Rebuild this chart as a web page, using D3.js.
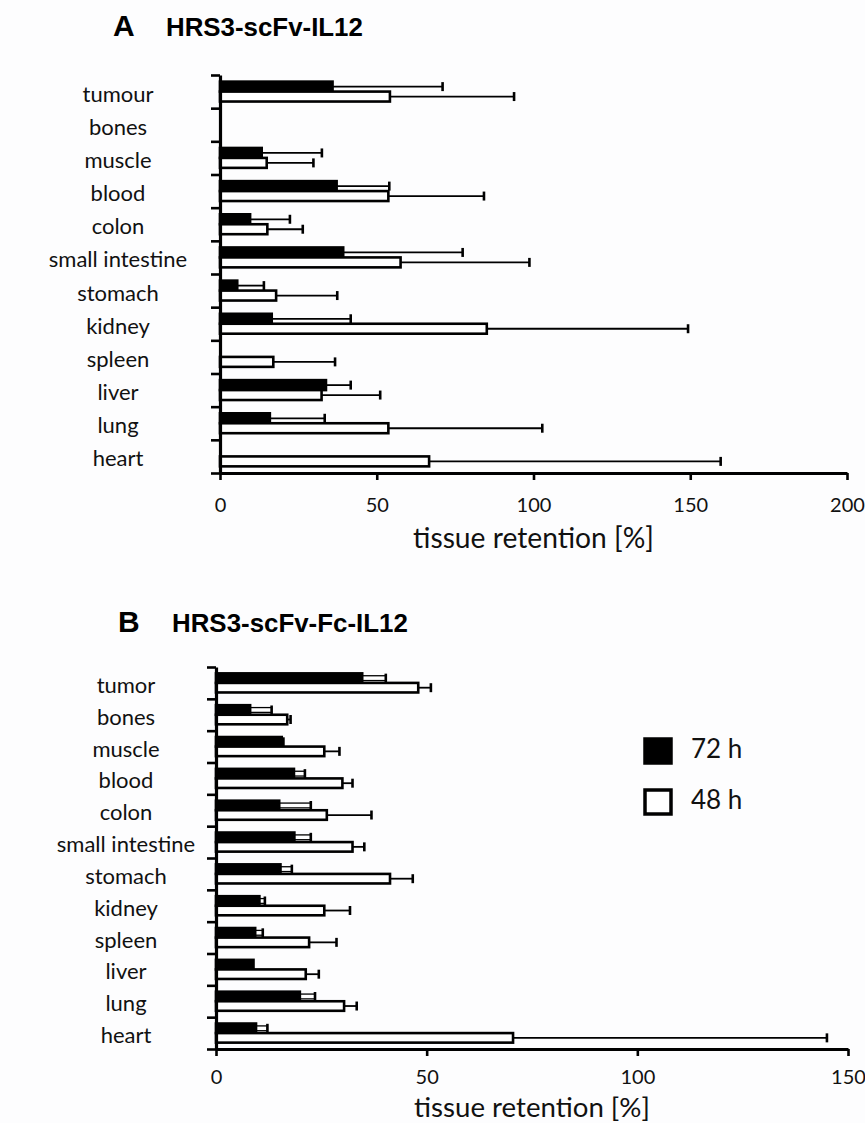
<!DOCTYPE html>
<html><head><meta charset="utf-8">
<script src="https://cdn.jsdelivr.net/npm/d3@7"></script>
<style>body{margin:0;background:#fdfdfe}</style>
</head><body>
<svg id="c" width="865" height="1123"></svg>
<script>
// ---------- data ----------
const categoriesA = ["tumour","bones","muscle","blood","colon","small intestine","stomach","kidney","spleen","liver","lung","heart"];
const categoriesB = ["tumor","bones","muscle","blood","colon","small intestine","stomach","kidney","spleen","liver","lung","heart"];
const seriesNames = ["72 h","48 h"];
// panel A (HRS3-scFv-IL12): mean and SD, null = no bar
const meanA72 = [35.9, null, 13.3, 37.2, 9.6, 39.3, 5.5, 16.5, null, 33.8, 15.9, null];
const sdA72   = [35.1, null, 19.2, 16.8, 12.7, 38.1, 8.5, 25.2, null, 7.9, 17.5, null];
const meanA48 = [54.2, null, 14.9, 53.7, 15.1, 57.6, 17.9, 85.1, 17.0, 32.4, 53.7, 66.7];
const sdA48   = [39.6, null, 14.9, 30.5, 11.3, 41.1, 19.5, 64.2, 19.7, 18.7, 49.1, 93.0];
// panel B (HRS3-scFv-Fc-IL12)
const meanB72 = [34.7, 8.1, 15.6, 18.5, 15.0, 18.6, 15.3, 10.3, 9.3, 8.9, 19.9, 9.5];
const sdB72   = [5.6, 5.1, 0.4, 2.6, 7.5, 3.9, 2.7, 1.3, 1.8, 0.0, 3.6, 2.7];
const meanB48 = [48.0, 16.9, 25.7, 30.0, 26.3, 32.4, 41.3, 25.7, 22.1, 21.3, 30.4, 70.5];
const sdB48   = [3.0, 0.8, 3.6, 2.4, 10.6, 2.8, 5.4, 6.1, 6.5, 3.1, 3.0, 74.5];
const ticksA = [0, 50, 100, 150, 200];
const ticksB = [0, 50, 100, 150];
const panelLetters = ["A", "B"];
const panelTitles = ["HRS3-scFv-IL12", "HRS3-scFv-Fc-IL12"];
const axisTitle = "tissue retention [%]";

// ---------- drawing ----------
const svg = d3.select("#c");
svg.append("rect").attr("width", 865).attr("height", 1123).attr("fill", "#fdfdfe");

const labelFont = "Lato, 'Open Sans', sans-serif";
const titleFont = "'Liberation Sans', Arial, sans-serif";

function fit(sel, w) {
  const l = sel.node().getComputedTextLength();
  const fs = parseFloat(sel.attr("font-size"));
  sel.attr("font-size", (fs * w / l).toFixed(2));
}

function panel(cfg) {
  const g = svg.append("g");
  const x = d3.scaleLinear().domain([0, cfg.max]).range([cfg.x0, cfg.x1]);
  const yb = d3.scaleLinear().domain([0, cfg.cats.length]).range([cfg.yTop, cfg.yBot]);
  const yc = d3.scaleBand().domain(cfg.cats).range([cfg.yTop, cfg.yBot]).padding(0);
  const bw = yc.bandwidth();

  // titles
  g.append("text").text(cfg.letter).attr("x", cfg.letterX).attr("y", cfg.titleY)
    .attr("font-family", titleFont).attr("font-weight", "bold").attr("font-size", 30);
  const t = g.append("text").text(cfg.title).attr("x", cfg.titleX).attr("y", cfg.titleY)
    .attr("font-family", titleFont).attr("font-weight", "bold").attr("font-size", 25);
  fit(t, cfg.titleW);

  // category labels
  g.selectAll("text.cat").data(cfg.cats).join("text").attr("class", "cat")
    .text(d => d)
    .attr("x", cfg.labelX).attr("y", d => yc(d) + bw * 0.5 + 10)
    .attr("text-anchor", "middle")
    .attr("font-family", labelFont).attr("font-size", 22).attr("fill", "#111");

  const series = [
    {mean: cfg.m72, sd: cfg.s72, off: 0.2, fill: "#000", dbl: cfg.doubleErr},
    {mean: cfg.m48, sd: cfg.s48, off: 0.5, fill: "#fff", dbl: false}
  ];
  series.forEach(s => {
    const data = cfg.cats.map((c, i) => ({c, m: s.mean[i], sd: s.sd[i]})).filter(d => d.m != null);
    const cy = d => yc(d.c) + bw * (s.off + 0.15);
    // error bars
    const eb = data.filter(d => d.sd != null && d.sd > 0);
    if (s.dbl) {
      g.selectAll(null).data(eb).join("rect")
        .attr("x", d => x(d.m)).attr("width", d => x(d.m + d.sd) - x(d.m))
        .attr("y", d => cy(d) - 2.4).attr("height", 4.8)
        .attr("fill", "#fff").attr("stroke", "#000").attr("stroke-width", 1.3);
    } else {
      g.selectAll(null).data(eb).join("line")
        .attr("x1", d => x(d.m)).attr("x2", d => x(d.m + d.sd))
        .attr("y1", cy).attr("y2", cy)
        .attr("stroke", "#000").attr("stroke-width", 1.8);
    }
    g.selectAll(null).data(eb).join("line")
      .attr("x1", d => x(d.m + d.sd)).attr("x2", d => x(d.m + d.sd))
      .attr("y1", d => cy(d) - 4.5).attr("y2", d => cy(d) + 4.5)
      .attr("stroke", "#000").attr("stroke-width", 2.6);
    // bars
    g.selectAll(null).data(data).join("rect")
      .attr("x", x(0)).attr("width", d => x(d.m) - x(0))
      .attr("y", d => yc(d.c) + bw * s.off).attr("height", bw * 0.3)
      .attr("fill", s.fill).attr("stroke", "#000").attr("stroke-width", 2.6);
  });

  // y axis (ticks between categories)
  const ya = g.append("g").attr("transform", `translate(${cfg.x0},0)`)
    .call(d3.axisLeft(yb).tickValues(d3.range(0, cfg.cats.length + 1)).tickSize(9).tickSizeOuter(0).tickFormat(""));
  ya.select(".domain").attr("stroke-width", 3.2);
  ya.selectAll(".tick line").attr("stroke-width", 2.6);

  // x axis
  const xa = g.append("g").attr("transform", `translate(0,${cfg.yBot})`)
    .call(d3.axisBottom(x).tickValues(cfg.ticks).tickSize(7).tickSizeOuter(0));
  xa.select(".domain").attr("stroke-width", 3.2);
  xa.selectAll(".tick line").attr("stroke-width", 2.6);
  xa.selectAll(".tick text").attr("y", cfg.tickLabelY).attr("dy", 0)
    .attr("font-family", labelFont).attr("font-size", 20).attr("fill", "#111");

  const at = g.append("text").text(axisTitle)
    .attr("x", (cfg.x0 + cfg.x1) / 2).attr("y", cfg.axisTitleY).attr("text-anchor", "middle")
    .attr("font-family", labelFont).attr("font-size", 28).attr("fill", "#111");
  fit(at, cfg.axisTitleW);
}

panel({cats: categoriesA, m72: meanA72, s72: sdA72, m48: meanA48, s48: sdA48, max: 200, ticks: ticksA,
  x0: 220, x1: 847, yTop: 75, yBot: 473, labelX: 118, letter: panelLetters[0], title: panelTitles[0],
  letterX: 113, titleX: 166, titleY: 36, titleW: 197, tickLabelY: 39, axisTitleY: 548, axisTitleW: 241, doubleErr: false});
panel({cats: categoriesB, m72: meanB72, s72: sdB72, m48: meanB48, s48: sdB48, max: 150, ticks: ticksB,
  x0: 216, x1: 848, yTop: 667, yBot: 1049, labelX: 126, letter: panelLetters[1], title: panelTitles[1],
  letterX: 118, titleX: 172, titleY: 632, titleW: 236, tickLabelY: 35, axisTitleY: 1117, axisTitleW: 236, doubleErr: true});

// legend
const lg = svg.append("g");
const legendFills = ["#000", "#fff"];
const legendY = [739, 790];
seriesNames.forEach((n, i) => {
  lg.append("rect").attr("x", 645).attr("y", legendY[i]).attr("width", 26).attr("height", 24)
    .attr("fill", legendFills[i]).attr("stroke", "#000").attr("stroke-width", 3.5);
  lg.append("text").text(n).attr("x", 691).attr("y", legendY[i] + 19)
    .attr("font-family", labelFont).attr("font-size", 26).attr("fill", "#111");
});
</script>
</body></html>
